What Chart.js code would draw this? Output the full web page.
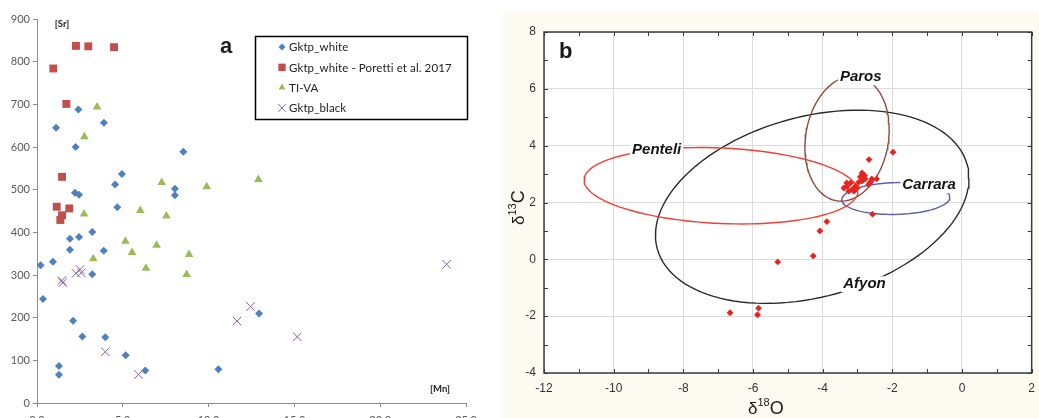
<!DOCTYPE html>
<html>
<head>
<meta charset="utf-8">
<script src="https://cdn.jsdelivr.net/npm/chart.js@4.4.0/dist/chart.umd.min.js"></script>
<style>
  html, body { margin: 0; padding: 0; width: 1039px; height: 418px; overflow: hidden; background: #fff; }
  #wrapA { position: absolute; left: 0; top: 0; width: 500px; height: 418px; }
  #panelB { position: absolute; left: 503px; top: 11px; width: 540px; height: 407px; background: #fdfbf1; }
</style>
</head>
<body>
<div id="wrapA"><canvas id="chartA" width="500" height="418"></canvas></div>
<div id="panelB"><canvas id="chartB" width="540" height="407"></canvas></div>
<script>
// ---------- panel a : [Sr] vs [Mn] ----------
const whiteMn = [1.11, 2.41, 3.90, 2.25, 8.53, 4.95, 4.55, 2.21, 2.45, 8.04, 8.04, 4.68, 1.92, 2.45, 3.22, 1.92, 3.89, 0.21, 0.93, 3.22, 0.35, 2.10, 2.64, 3.98, 5.17, 1.28, 1.28, 6.31, 10.57, 12.94];
const whiteSr = [645, 688, 657, 600, 589, 537, 512, 493, 488, 502, 487, 459, 385, 389, 401, 359, 357, 323, 331, 302, 244, 193, 156, 154, 112, 87, 66, 76, 79, 210];

const porettiMn = [0.95, 2.27, 2.99, 4.49, 1.71, 1.46, 1.15, 1.88, 1.46, 1.36];
const porettiSr = [784, 837, 836, 834, 701, 530, 460, 456, 440, 429];

const tivaMn = [3.50, 2.76, 7.27, 9.89, 12.9, 2.74, 6.02, 7.54, 5.15, 5.54, 6.97, 3.28, 6.35, 8.86, 8.72];
const tivaSr = [694, 624, 517, 507, 524, 443, 451, 438, 379, 353, 370, 338, 316, 348, 301];

const blackMn = [1.45, 1.50, 2.27, 2.51, 2.58, 3.98, 5.92, 11.66, 12.45, 15.17, 23.87];
const blackSr = [287, 282, 304, 313, 305, 120, 67, 192, 226, 155, 325];

const mnTicks = [0, 5, 10, 15, 20, 25];
const srTicks = [0, 100, 200, 300, 400, 500, 600, 700, 800, 900];

// ---------- panel b : d13C vs d18O ----------
const sampleO18 = [-6.66, -5.84, -5.87, -2.57, -3.88, -4.08, -4.27, -5.29, -1.98, -2.67,
  -2.87, -2.80, -2.92, -2.78, -2.59, -2.45, -2.68, -2.97, -3.06, -3.20, -3.30, -3.39, -3.15, -3.25, -3.10, -3.01, -2.64, -2.87, -3.31];
const sampleC13 = [-1.88, -1.72, -1.95, 1.59, 1.33, 1.00, 0.12, -0.09, 3.77, 3.51,
  3.04, 2.95, 2.90, 2.83, 2.83, 2.83, 2.63, 2.71, 2.57, 2.69, 2.57, 2.51, 2.46, 2.40, 2.40, 2.51, 2.71, 2.75, 2.69];

// ellipse = centre + (dx,dy)*cos t + (0,vy)*sin t  (dx,dy: offset to rightmost point)
const ellipseNames = ['Penteli', 'Paros', 'Carrara', 'Afyon'];
const ellipseCx = [-6.92, -3.30, -1.90, -4.30];
const ellipseCy = [2.59, 4.25, 2.14, 1.85];
const ellipseDx = [3.93, 1.21, 1.55, 4.50];
const ellipseDy = [-0.20, 0.31, 0.04, 1.00];
const ellipseVy = [1.33, 2.18, 0.56, 3.25];
const ellipseLabelAt = [118, 71, 52, -70.5];   // where the name sits on the ring (deg)

const o18Ticks = [-12, -10, -8, -6, -4, -2, 0, 2];
const c13Ticks = [-4, -2, 0, 2, 4, 6, 8];

function pts(xs, ys) {
  return xs.map((x, i) => ({ x: x, y: ys[i] }));
}

function ring(i) {
  const out = [];
  for (let k = 0; k <= 120; k++) {
    const t = k / 120 * 2 * Math.PI;
    out.push({
      x: ellipseCx[i] + ellipseDx[i] * Math.cos(t),
      y: ellipseCy[i] + ellipseDy[i] * Math.cos(t) + ellipseVy[i] * Math.sin(t)
    });
  }
  return out;
}

// legend box of panel a
const legendBox = {
  id: 'legendBox',
  afterDraw(chart) {
    const ctx = chart.ctx;
    ctx.save();
    ctx.lineWidth = 1.5;
    ctx.strokeStyle = '#000';
    ctx.strokeRect(255.5, 36.5, 212, 83);
    ctx.font = '11.5px Lato, "Open Sans", sans-serif';
    ctx.letterSpacing = '0.1px';   // keeps "tt i" from turning into a ligature
    ctx.textBaseline = 'middle';
    chart.data.datasets.forEach((ds, i) => {
      const y = 47 + i * 20.3;
      ctx.fillStyle = ds.backgroundColor;
      ctx.strokeStyle = ds.borderColor;
      ctx.lineWidth = ds.borderWidth || 1;
      Chart.helpers.drawPoint(ctx, { pointStyle: ds.pointStyle, radius: ds.legendRadius, borderWidth: ds.borderWidth || 0, rotation: 0 }, 282, y);
      ctx.fillStyle = '#222';
      ctx.fillText(ds.label, 289, y + 0.5);
    });
    ctx.restore();
  }
};

const textA = {
  id: 'textA',
  afterDraw(chart) {
    const ctx = chart.ctx;
    ctx.save();
    ctx.fillStyle = '#222';
    ctx.textAlign = 'center';
    ctx.textBaseline = 'middle';
    ctx.font = 'bold 22px "Liberation Sans", Arial, sans-serif';
    ctx.fillText('a', 226, 47);
    ctx.font = 'bold 9.5px Lato, sans-serif';
    ctx.fillText('[Sr]', 62, 24);
    ctx.fillText('[Mn]', 440, 389);
    ctx.restore();
  }
};

new Chart(document.getElementById('chartA'), {
  type: 'scatter',
  data: {
    datasets: [
      { label: 'Gktp_white', data: pts(whiteMn, whiteSr), pointStyle: 'rectRot', pointRadius: 4, legendRadius: 3.5,
        backgroundColor: '#4f81bd', borderColor: '#4f81bd', borderWidth: 0 },
      { label: 'Gktp_white - Poretti et al. 2017', data: pts(porettiMn, porettiSr), pointStyle: 'rect', pointRadius: 5.6, legendRadius: 5.2,
        backgroundColor: '#c0504d', borderColor: '#c0504d', borderWidth: 0 },
      { label: 'TI-VA', data: pts(tivaMn, tivaSr), pointStyle: 'triangle', pointRadius: 5, legendRadius: 4,
        backgroundColor: '#9bbb59', borderColor: '#9bbb59', borderWidth: 0 },
      { label: 'Gktp_black', data: pts(blackMn, blackSr), pointStyle: 'crossRot', pointRadius: 6, legendRadius: 5.5,
        backgroundColor: '#8064a2', borderColor: '#8064a2', borderWidth: 1 }
    ]
  },
  options: {
    responsive: false,
    animation: false,
    events: [],
    layout: { padding: { top: 19, right: 34, left: 0, bottom: 0 } },
    plugins: { legend: { display: false }, tooltip: { enabled: false } },
    scales: {
      x: {
        type: 'linear', min: 0, max: 25,
        afterFit(s) { s.height = 15; },
        afterBuildTicks(s) { s.ticks = mnTicks.map(v => ({ value: v })); },
        ticks: { callback: v => v.toFixed(1), padding: 7, maxRotation: 0, color: '#595959', font: { family: 'Lato', size: 11 } },
        grid: { drawOnChartArea: false, tickLength: 4, color: '#8c8c8c' },
        border: { color: '#8c8c8c' }
      },
      y: {
        min: 0, max: 900,
        afterFit(s) { s.width = 37; },
        afterBuildTicks(s) { s.ticks = srTicks.map(v => ({ value: v })); },
        ticks: { padding: 3, color: '#595959', font: { family: 'Lato', size: 11 } },
        grid: { drawOnChartArea: false, tickLength: 4, color: '#8c8c8c' },
        border: { color: '#8c8c8c' }
      }
    }
  },
  plugins: [legendBox, textA]
});

// white plot area, frame with inside ticks, titles
const frameB = {
  id: 'frameB',
  beforeDraw(chart) {
    const { ctx, chartArea: a } = chart;
    ctx.save();
    ctx.fillStyle = '#fff';
    ctx.fillRect(a.left, a.top, a.right - a.left, a.bottom - a.top);
    ctx.restore();
  },
  afterDraw(chart) {
    const { ctx, chartArea: a, scales } = chart;
    ctx.save();
    ctx.strokeStyle = '#3a3a3a';
    ctx.lineWidth = 1.5;
    ctx.strokeRect(a.left, a.top, a.right - a.left, a.bottom - a.top);
    ctx.lineWidth = 1;
    ctx.beginPath();
    for (let v = -12; v <= 2; v++) {
      const px = Math.round(scales.x.getPixelForValue(v)) + 0.5;
      ctx.moveTo(px, a.top); ctx.lineTo(px, a.top + 4);
      ctx.moveTo(px, a.bottom); ctx.lineTo(px, a.bottom - 4);
    }
    for (let v = -4; v <= 8; v++) {
      const py = Math.round(scales.y.getPixelForValue(v)) + 0.5;
      ctx.moveTo(a.left, py); ctx.lineTo(a.left + 4, py);
      ctx.moveTo(a.right, py); ctx.lineTo(a.right - 4, py);
    }
    ctx.stroke();

    ctx.fillStyle = '#1a1a1a';
    ctx.textBaseline = 'alphabetic';
    ctx.textAlign = 'left';
    ctx.font = 'bold 22px "Liberation Sans", Arial, sans-serif';
    ctx.fillText('b', 56, 47);

    // x title: δ18O
    let x = 245, base = 403;
    ctx.font = '17px "Liberation Sans", Arial, sans-serif';
    ctx.fillText('δ', x, base); x += ctx.measureText('δ').width;
    ctx.font = '11px "Liberation Sans", Arial, sans-serif';
    ctx.fillText('18', x, base - 8); x += ctx.measureText('18').width;
    ctx.font = '18px "Liberation Sans", Arial, sans-serif';
    ctx.fillText('O', x, base);

    // y title: δ13C (rotated)
    ctx.translate(21, 214);
    ctx.rotate(-Math.PI / 2);
    x = 0; base = 0;
    ctx.font = '17px "Liberation Sans", Arial, sans-serif';
    ctx.fillText('δ', x, base); x += ctx.measureText('δ').width;
    ctx.font = '11px "Liberation Sans", Arial, sans-serif';
    ctx.fillText('13', x, base - 8); x += ctx.measureText('13').width;
    ctx.font = '18px "Liberation Sans", Arial, sans-serif';
    ctx.fillText('C', x, base);
    ctx.restore();
  }
};

const ringNames = {
  id: 'ringNames',
  afterDatasetsDraw(chart) {
    const { ctx, scales } = chart;
    ctx.save();
    ctx.font = 'italic bold 15px "Liberation Sans", Arial, sans-serif';
    ctx.textAlign = 'center';
    ctx.textBaseline = 'middle';
    ellipseNames.forEach((name, i) => {
      const t = ellipseLabelAt[i] * Math.PI / 180;
      const px = scales.x.getPixelForValue(ellipseCx[i] + ellipseDx[i] * Math.cos(t));
      const py = scales.y.getPixelForValue(ellipseCy[i] + ellipseDy[i] * Math.cos(t) + ellipseVy[i] * Math.sin(t));
      const w = ctx.measureText(name).width;
      ctx.fillStyle = '#fff';
      ctx.fillRect(px - w / 2 - 2, py - 8, w + 4, 16);
      ctx.fillStyle = '#151515';
      ctx.fillText(name, px, py);
    });
    ctx.restore();
  }
};

const ringColors = ['#ee4136', '#8e4a3c', '#5b5fb0', '#2b2b2b'];

new Chart(document.getElementById('chartB'), {
  type: 'scatter',
  data: {
    datasets: [
      { label: 'samples', data: pts(sampleO18, sampleC13), pointStyle: 'rectRot', pointRadius: 3.4,
        backgroundColor: '#e8231f', borderColor: '#e8231f', borderWidth: 0 }
    ].concat(ellipseNames.map((name, i) => ({
      label: name, data: ring(i), showLine: true, pointRadius: 0,
      borderColor: ringColors[i], borderWidth: 1.4, fill: false, tension: 0
    })))
  },
  options: {
    responsive: false,
    animation: false,
    events: [],
    layout: { padding: { top: 21, right: 2, left: 0, bottom: 0 } },
    plugins: { legend: { display: false }, tooltip: { enabled: false } },
    scales: {
      x: {
        type: 'linear', min: -12, max: 2,
        afterFit(s) { s.height = 45; },
        afterBuildTicks(s) { s.ticks = o18Ticks.map(v => ({ value: v })); },
        ticks: { padding: 8, maxRotation: 0, color: '#333', font: { family: '"Liberation Sans", Arial', size: 12 } },
        grid: { drawTicks: false, color: '#dcdcdc' },
        border: { display: false }
      },
      y: {
        min: -4, max: 8,
        afterFit(s) { s.width = 41; },
        afterBuildTicks(s) { s.ticks = c13Ticks.map(v => ({ value: v })); },
        ticks: { padding: 8, color: '#333', font: { family: '"Liberation Sans", Arial', size: 12 } },
        grid: { drawTicks: false, color: '#dcdcdc' },
        border: { display: false }
      }
    }
  },
  plugins: [frameB, ringNames]
});
</script>
</body>
</html>
